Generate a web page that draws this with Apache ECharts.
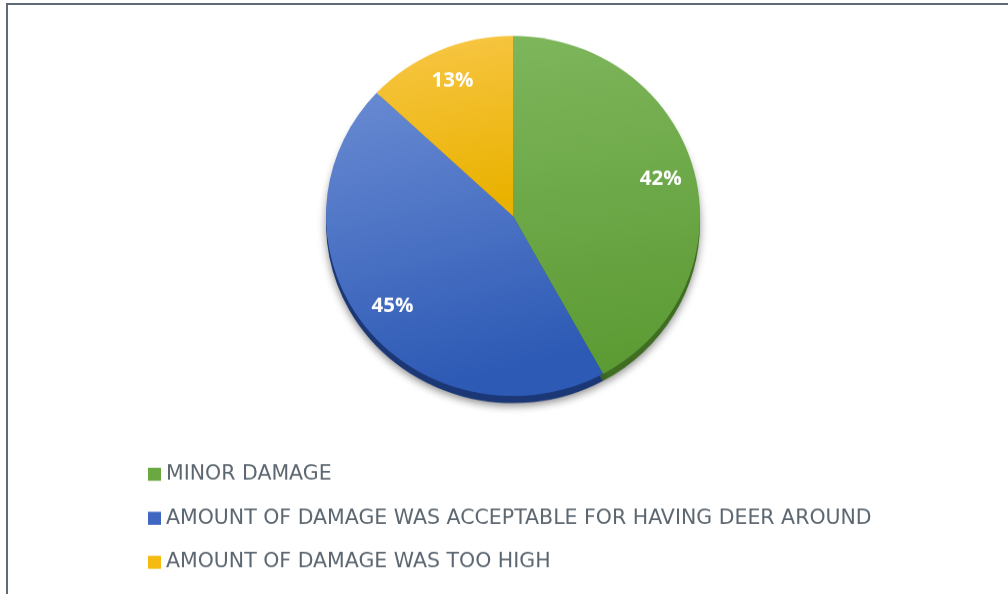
<!DOCTYPE html>
<html>
<head>
<meta charset="utf-8">
<script src="https://cdn.jsdelivr.net/npm/echarts@6/dist/echarts.min.js"></script>
<style>
html,body{margin:0;padding:0;background:#fff;overflow:hidden;}
#frame{position:absolute;left:6px;top:3px;width:1002px;height:591px;border-left:2px solid #5f6a74;border-top:2px solid #5f6a74;box-sizing:border-box;}
#chart{position:absolute;left:0;top:0;width:1008px;height:617px;transform:scaleY(0.963);transform-origin:0 0;}
</style>
</head>
<body>
<div id="frame"></div>
<div id="chart"></div>
<script>
const categories = ['MINOR DAMAGE', 'AMOUNT OF DAMAGE WAS ACCEPTABLE FOR HAVING DEER AROUND', 'AMOUNT OF DAMAGE WAS TOO HIGH'];
const values = [42, 45, 13];
const topColors = ['#7eb65c', '#6a8bd3', '#f8c748'];
const bottomColors = ['#5c9b34', '#2d5ab5', '#eab200'];
const rimColors = ['#3f6e22', '#1b3775', '#a87e00'];
const legendColors = ['#6aa842', '#3f67c2', '#f5bb12'];

const chart = echarts.init(document.getElementById('chart'), null, {renderer: 'canvas'});

const mainData = categories.map((n, i) => ({
  name: n, value: values[i],
  itemStyle: {
    color: new echarts.graphic.LinearGradient(0, 0, 0.3, 1, [
      {offset: 0, color: topColors[i]}, {offset: 1, color: bottomColors[i]}
    ])
  }
}));
const rimData = categories.map((n, i) => ({name: n, value: values[i], itemStyle: {color: rimColors[i]}}));
const labelData = categories.map((n, i) => ({name: n, value: values[i]}));

const CX = 513, CY = 224.3, R = 187;

chart.setOption({
  animation: false,
  color: legendColors,
  legend: {
    orient: 'vertical',
    left: 148,
    top: 482,
    padding: 0,
    itemWidth: 13,
    itemHeight: 13.5,
    itemGap: 24.7,
    itemTextGap: 5,
    icon: 'rect',
    data: categories.map((n, i) => ({name: n, itemStyle: {color: legendColors[i]}})),
    textStyle: {fontFamily: 'DejaVu Sans', fontSize: 20.5, color: '#5b6670', lineHeight: 21},
    selectedMode: false
  },
  series: [
    {
      type: 'pie', center: [CX, CY + 7.3], radius: R, startAngle: 90, clockwise: true,
      silent: true, label: {show: false}, labelLine: {show: false},
      data: rimData,
      itemStyle: {shadowBlur: 8, shadowColor: 'rgba(0,0,0,0.45)', shadowOffsetY: 3, borderWidth: 0}
    },
    {
      type: 'pie', center: [CX, CY], radius: R, startAngle: 90, clockwise: true,
      silent: true, label: {show: false}, labelLine: {show: false},
      data: mainData,
      itemStyle: {borderWidth: 0}
    },
    {
      type: 'pie', center: [CX, CY], radius: [112, R], startAngle: 90, clockwise: true,
      silent: true, labelLine: {show: false},
      data: labelData,
      itemStyle: {color: 'rgba(0,0,0,0)', borderWidth: 0},
      label: {show: true, position: 'inside', formatter: '{c}%', color: '#ffffff',
        fontFamily: 'Open Sans', fontWeight: 'bold', fontSize: 20.5}
    }
  ]
});
</script>
</body>
</html>
